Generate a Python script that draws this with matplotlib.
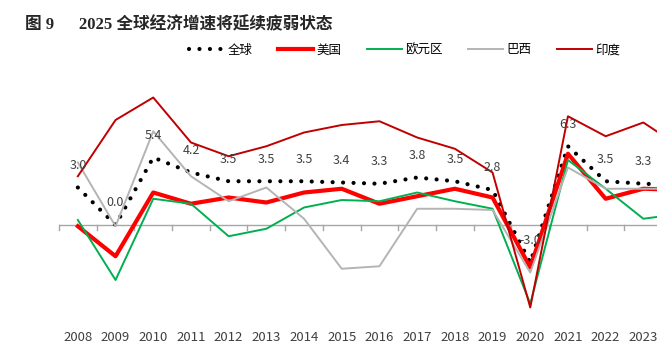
import numpy as np
import matplotlib
matplotlib.use('Agg')
import matplotlib.pyplot as plt

plt.rcParams['font.family'] = ['Noto Sans CJK SC', 'DejaVu Sans']

# 数据（读自原图，2024 年超出右侧边界被裁掉）
years = list(range(2008, 2025))
world = [3.0, 0.0, 5.4, 4.2, 3.5, 3.5, 3.5, 3.4, 3.3, 3.8, 3.5, 2.8, -3.0, 6.3, 3.5, 3.3, 3.2]
usa = [-0.1, -2.5, 2.6, 1.7, 2.2, 1.8, 2.6, 2.9, 1.7, 2.3, 2.9, 2.2, -3.4, 5.7, 2.1, 2.9, 2.8]
euro = [0.4, -4.4, 2.1, 1.7, -0.9, -0.3, 1.4, 2.0, 1.9, 2.6, 1.9, 1.3, -6.3, 5.2, 2.9, 0.5, 0.9]
brazil = [5.0, -0.1, 7.5, 3.9, 1.9, 3.0, 0.5, -3.5, -3.3, 1.3, 1.3, 1.2, -3.8, 4.6, 2.9, 2.9, 2.9]
india = [3.9, 8.4, 10.2, 6.6, 5.5, 6.3, 7.4, 8.0, 8.3, 7.0, 6.1, 4.2, -6.6, 8.7, 7.1, 8.2, 6.2]
label_years = list(range(2008, 2024))

W, H = 657, 346
fig = plt.figure(figsize=(W / 100, H / 100), dpi=100)

# 坐标区：左边界 59px，每年 37.7px，右侧延伸出画布
x0, step = 59, 37.7
ax = fig.add_axes([x0 / W, 21 / H, 17 * step / W, 250 / H])
ax.set_xlim(2007.5, 2024.5)
ax.set_ylim(-8, 12)

ax.plot(years, world, color='black', lw=3.0, linestyle=(0, (0.01, 2.5)),
        dash_capstyle='round', label='全球', zorder=3)
ax.plot(years, usa, color='#FF0000', lw=3.0, label='美国', zorder=4)
ax.plot(years, euro, color='#00B050', lw=1.4, label='欧元区', zorder=5)
ax.plot(years, brazil, color='#B4B4B4', lw=1.4, label='巴西', zorder=6)
ax.plot(years, india, color='#C00000', lw=1.4, label='印度', zorder=7)

# 全球数据标签
for yr, v in zip(years, world):
    if yr in label_years:
        ax.annotate(f'{v:.1f}', (yr, v), xytext=(0, 16), textcoords='offset points',
                    ha='center', va='center', fontsize=9, color='#404040', zorder=8)

# 坐标轴：零线 + 类别之间的刻度
for s in ['top', 'right', 'left', 'bottom']:
    ax.spines[s].set_visible(False)
ax.axhline(0, color='#A6A6A6', lw=1.0, zorder=1)
ax.set_yticks([])
ax.set_xticks([])
for b in np.arange(2007.5, 2024.5, 1.0):
    ax.plot([b, b], [0, -0.4], color='#A6A6A6', lw=1.0, zorder=1, clip_on=False)
for yr in label_years:
    ax.text(yr, -9.0, str(yr), ha='center', va='center', fontsize=9.5, color='#404040')

# 图例
fig.legend(loc='center left', bbox_to_anchor=(189 / W, 1 - 50 / H), ncol=5,
           frameon=False, fontsize=9, handlelength=2.8, handletextpad=0.3,
           columnspacing=2.0, borderpad=0, borderaxespad=0)

# 标题
fig.text(25 / W, 1 - 25 / H, '图 9      2025 全球经济增速将延续疲弱状态',
         ha='left', va='center', fontsize=12, fontweight='bold', color='#262626',
         family=['Liberation Serif', 'Noto Sans CJK SC'])

fig.savefig('out.png', dpi=100)
